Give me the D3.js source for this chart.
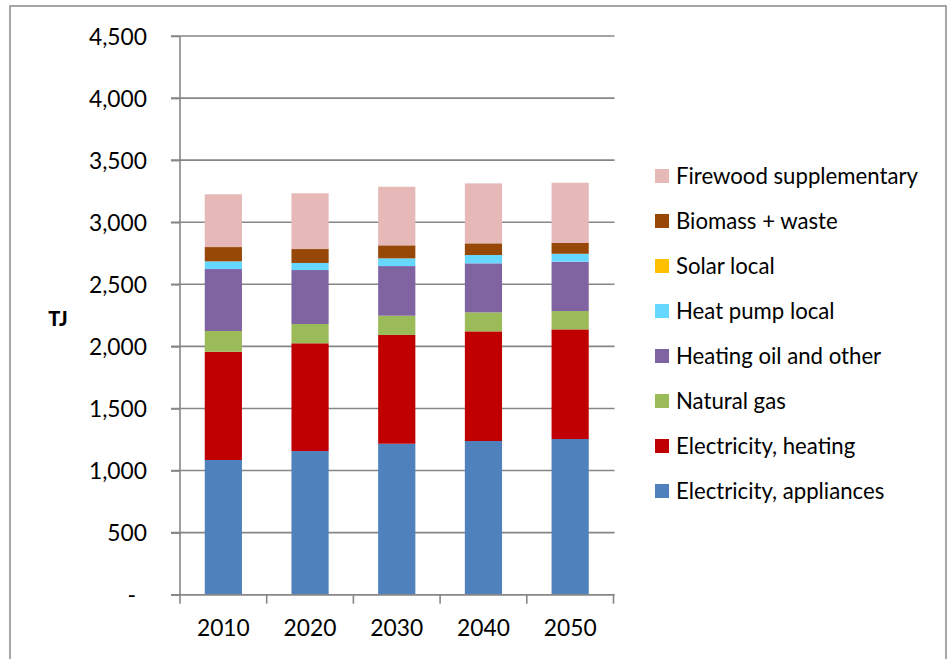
<!DOCTYPE html>
<html>
<head>
<meta charset="utf-8">
<script src="https://cdn.jsdelivr.net/npm/d3@7/dist/d3.min.js"></script>
<style>
  html, body { margin: 0; padding: 0; background: #fff; }
  svg { display: block; font-family: Lato, "Open Sans", sans-serif; }
</style>
</head>
<body>
<svg id="chart" width="948" height="659"></svg>
<script>
// ---- data ----
const years = ["2010", "2020", "2030", "2040", "2050"];
const seriesNames = [
  "Electricity, appliances",
  "Electricity, heating",
  "Natural gas",
  "Heating oil and other",
  "Heat pump local",
  "Solar local",
  "Biomass + waste",
  "Firewood supplementary"
];
const elecAppliances = [1085, 1157, 1216, 1238, 1254];
const elecHeating    = [872, 868, 876, 883, 883];
const naturalGas     = [167, 155, 155, 153, 148];
const heatingOil     = [499, 435, 400, 395, 397];
const heatPump       = [62, 57, 62, 67, 64];
const solarLocal     = [0, 0, 0, 0, 0];
const biomassWaste   = [115, 112, 105, 94, 87];
const firewood       = [425, 449, 472, 483, 485];
const yTicks = [0, 500, 1000, 1500, 2000, 2500, 3000, 3500, 4000, 4500];
const colors = ["#4F81BD", "#C00000", "#9BBB59", "#8064A2", "#66D8FF", "#FFC000", "#974706", "#E6B9B8"];

const seriesValues = [elecAppliances, elecHeating, naturalGas, heatingOil, heatPump, solarLocal, biomassWaste, firewood];

// ---- table for stacking ----
const table = years.map((yr, i) => {
  const row = { year: yr };
  seriesNames.forEach((s, k) => row[s] = seriesValues[k][i]);
  return row;
});
const stacked = d3.stack().keys(seriesNames)(table);

const svg = d3.select("#chart");

// outer border
svg.append("rect")
  .attr("x", 10).attr("y", 6).attr("width", 936).attr("height", 700)
  .attr("fill", "none").attr("stroke", "#8a8a8a").attr("stroke-width", 1.5);

const plotL = 180, plotR = 613.5, plotT = 36, plotB = 594.7;

const y = d3.scaleLinear().domain([0, 4500]).range([plotB, plotT]);
const x = d3.scaleBand().domain(years).range([plotL, plotR])
  .paddingInner(0.571).paddingOuter(0.2855);

// gridlines
svg.append("g").selectAll("line").data(yTicks).join("line")
  .attr("x1", plotL - 9).attr("x2", plotR + 1)
  .attr("y1", d => y(d)).attr("y2", d => y(d))
  .attr("stroke", "#868686").attr("stroke-width", 1.6);

// bars
svg.append("g").selectAll("g").data(stacked).join("g")
  .attr("fill", (d, i) => colors[i])
  .selectAll("rect").data(d => d).join("rect")
  .attr("x", d => x(d.data.year))
  .attr("width", x.bandwidth())
  .attr("y", d => y(d[1]))
  .attr("height", d => Math.max(0, y(d[0]) - y(d[1])));

// y axis
const yAxis = d3.axisLeft(y).tickValues(yTicks).tickSize(9).tickPadding(24)
  .tickFormat(d => d === 0 ? "-" : d3.format(",")(d));
const gy = svg.append("g").attr("transform", `translate(${plotL},0)`).call(yAxis);
gy.select(".domain").attr("stroke", "#868686").attr("stroke-width", 1.6)
  .attr("d", `M0,${plotB}V${plotT}`);
gy.selectAll(".tick line").attr("stroke", "#868686").attr("stroke-width", 1.6);
gy.selectAll(".tick text")
  .attr("font-family", "Lato, sans-serif").attr("font-size", 22.8).attr("fill", "#000")
  .attr("dy", "0.36em")
  .attr("dx", d => d === 0 ? -11 : 0);

// x axis
const xAxis = d3.axisBottom(x).tickSize(0).tickPadding(25);
const gx = svg.append("g").attr("transform", `translate(0,${plotB})`).call(xAxis);
gx.select(".domain").remove();
gx.selectAll(".tick text")
  .attr("font-family", "Lato, sans-serif").attr("font-size", 22.8).attr("fill", "#000");

// category boundary ticks
const step = x.step();
const bounds = d3.range(years.length + 1).map(i => plotL + i * step);
svg.append("g").selectAll("line").data(bounds).join("line")
  .attr("x1", d => d).attr("x2", d => d)
  .attr("y1", plotB).attr("y2", plotB + 9)
  .attr("stroke", "#868686").attr("stroke-width", 1.6);
svg.append("line").attr("x1", plotL - 9).attr("x2", plotR + 1)
  .attr("y1", plotB).attr("y2", plotB)
  .attr("stroke", "#868686").attr("stroke-width", 1.6);

// y title
svg.append("text").attr("x", 58).attr("y", 318.5).attr("dy", "0.36em")
  .attr("text-anchor", "middle").attr("font-weight", "900")
  .attr("font-size", 20).attr("fill", "#000").text("TJ");

// legend (reverse order, top = Firewood)
const legendOrder = seriesNames.map((s, i) => ({ name: s, color: colors[i] })).reverse();
const lg = svg.append("g").selectAll("g").data(legendOrder).join("g")
  .attr("transform", (d, i) => `translate(655,${176 + i * 45})`);
lg.append("rect").attr("x", 0).attr("y", -7).attr("width", 14).attr("height", 14)
  .attr("fill", d => d.color);
lg.append("text").attr("x", 21).attr("dy", "0.36em")
  .attr("font-size", 21).attr("fill", "#000").text(d => d.name);

// fit legend font to reference width
const ft = lg.select("text").nodes()[0];
const w = ft.getComputedTextLength();
const fs = 21 * 242 / w;
lg.selectAll("text").attr("font-size", fs);
</script>
</body>
</html>
